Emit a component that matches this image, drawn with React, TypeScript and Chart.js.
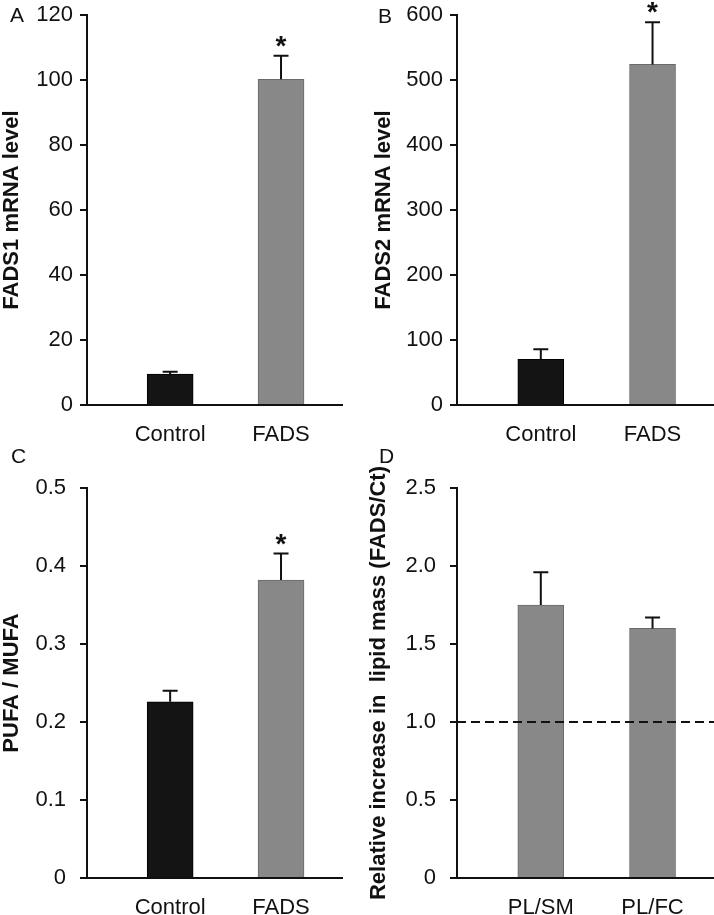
import React, { useEffect, useRef } from 'react';
import { Chart, registerables } from 'chart.js';

Chart.register(...registerables);

// ---------- data ----------
const geneCategories = ['Control', 'FADS'];
const fads1Mean = [9.5, 100.2];
const fads1Sem = [0.75, 7.3];
const fads2Mean = [70.3, 524];
const fads2Sem = [15.4, 65];
const pufaMufaMean = [0.226, 0.382];
const pufaMufaSem = [0.014, 0.034];
const lipidCategories = ['PL/SM', 'PL/FC'];
const lipidMean = [1.75, 1.6];
const lipidSem = [0.21, 0.07];
const geneStars = [false, true];
const lipidStars = [false, false];
const lipidReference = 1.0;

const fads1TickValues = [0, 20, 40, 60, 80, 100, 120];
const fads1TickLabels = ['0', '20', '40', '60', '80', '100', '120'];
const fads2TickValues = [0, 100, 200, 300, 400, 500, 600];
const fads2TickLabels = ['0', '100', '200', '300', '400', '500', '600'];
const pufaTickValues = [0, 0.1, 0.2, 0.3, 0.4, 0.5];
const pufaTickLabels = ['0', '0.1', '0.2', '0.3', '0.4', '0.5'];
const lipidTickValues = [0, 0.5, 1.0, 1.5, 2.0, 2.5];
const lipidTickLabels = ['0', '0.5', '1.0', '1.5', '2.0', '2.5'];

// ---------- styles ----------
const FONT = "'Liberation Sans', Arial, Helvetica, sans-serif";
const INK = '#111111';
const CONTROL_FILL = '#141414';
const CONTROL_EDGE = '#000000';
const FADS_FILL = '#888888';
const FADS_EDGE = '#6a6a6a';

type Panel = {
  key: string;
  letter: string;
  letterX: number;
  letterY: number;
  box: { left: number; top: number; width: number; height: number };
  axis: { left: number; top: number; right: number; bottom: number };
  title: string;
  titlePad: number;
  tickPad: number;
  categories: string[];
  means: number[];
  sems: number[];
  stars: boolean[];
  fills: string[];
  edges: string[];
  tickValues: number[];
  tickLabels: string[];
  reference?: number;
};

const panels: Panel[] = [
  {
    key: 'A', letter: 'A', letterX: 10, letterY: 22,
    box: { left: 0, top: 0, width: 357, height: 455 },
    axis: { left: 87, top: 15, right: 342, bottom: 405 },
    title: 'FADS1 mRNA level', titlePad: 1, tickPad: 7,
    categories: geneCategories, means: fads1Mean, sems: fads1Sem, stars: geneStars,
    fills: [CONTROL_FILL, FADS_FILL], edges: [CONTROL_EDGE, FADS_EDGE],
    tickValues: fads1TickValues, tickLabels: fads1TickLabels,
  },
  {
    key: 'B', letter: 'B', letterX: 21, letterY: 23,
    box: { left: 357, top: 0, width: 357, height: 455 },
    axis: { left: 100, top: 15, right: 357, bottom: 405 },
    title: 'FADS2 mRNA level', titlePad: 16, tickPad: 7,
    categories: geneCategories, means: fads2Mean, sems: fads2Sem, stars: geneStars,
    fills: [CONTROL_FILL, FADS_FILL], edges: [CONTROL_EDGE, FADS_EDGE],
    tickValues: fads2TickValues, tickLabels: fads2TickLabels,
  },
  {
    key: 'C', letter: 'C', letterX: 11, letterY: 23,
    box: { left: 0, top: 440, width: 357, height: 475 },
    axis: { left: 87, top: 48, right: 342, bottom: 438 },
    title: 'PUFA / MUFA', titlePad: 1, tickPad: 14,
    categories: geneCategories, means: pufaMufaMean, sems: pufaMufaSem, stars: geneStars,
    fills: [CONTROL_FILL, FADS_FILL], edges: [CONTROL_EDGE, FADS_EDGE],
    tickValues: pufaTickValues, tickLabels: pufaTickLabels,
  },
  {
    key: 'D', letter: 'D', letterX: 22, letterY: 23,
    box: { left: 357, top: 440, width: 357, height: 475 },
    axis: { left: 100, top: 48, right: 357, bottom: 438 },
    title: 'Relative increase in  lipid mass (FADS/Ct)', titlePad: 11, tickPad: 14,
    categories: lipidCategories, means: lipidMean, sems: lipidSem, stars: lipidStars,
    fills: [FADS_FILL, FADS_FILL], edges: [FADS_EDGE, FADS_EDGE],
    tickValues: lipidTickValues, tickLabels: lipidTickLabels,
    reference: lipidReference,
  },
];

function makeOverlayPlugin(p: Panel) {
  return {
    id: 'overlay' + p.key,
    afterDatasetsDraw(chart: any) {
      const ctx = chart.ctx as CanvasRenderingContext2D;
      const yScale = chart.scales.y;
      const area = chart.chartArea;
      const meta = chart.getDatasetMeta(0);
      ctx.save();
      if (p.reference !== undefined) {
        const ry = yScale.getPixelForValue(p.reference);
        ctx.strokeStyle = INK;
        ctx.lineWidth = 2;
        ctx.setLineDash([9, 5]);
        ctx.beginPath();
        ctx.moveTo(area.left, ry);
        ctx.lineTo(area.right, ry);
        ctx.stroke();
        ctx.setLineDash([]);
      }
      meta.data.forEach((bar: any, i: number) => {
        const top = yScale.getPixelForValue(p.means[i] + p.sems[i]);
        ctx.strokeStyle = INK;
        ctx.lineWidth = 2;
        ctx.beginPath();
        ctx.moveTo(bar.x, bar.y);
        ctx.lineTo(bar.x, top);
        ctx.moveTo(bar.x - 7.5, top);
        ctx.lineTo(bar.x + 7.5, top);
        ctx.stroke();
        if (p.stars[i]) {
          ctx.fillStyle = INK;
          ctx.font = `bold 28px ${FONT}`;
          ctx.textAlign = 'center';
          ctx.textBaseline = 'alphabetic';
          ctx.fillText('*', bar.x, top - 1);
        }
      });
      ctx.fillStyle = INK;
      ctx.font = `21px ${FONT}`;
      ctx.textAlign = 'left';
      ctx.textBaseline = 'alphabetic';
      ctx.fillText(p.letter, p.letterX, p.letterY);
      ctx.restore();
    },
  };
}

function PanelChart({ p }: { p: Panel }) {
  const ref = useRef<HTMLCanvasElement | null>(null);
  useEffect(() => {
    if (!ref.current) return;
    const { box, axis } = p;
    const chart = new Chart(ref.current, {
      type: 'bar',
      data: {
        datasets: [
          {
            data: p.means.map((m, i) => ({ x: i + 1, y: m })),
            backgroundColor: p.fills,
            borderColor: p.edges,
            borderWidth: 1,
            barThickness: 46,
          } as any,
        ],
      },
      options: {
        responsive: false,
        animation: false,
        devicePixelRatio: 1,
        layout: { padding: { top: axis.top, right: box.width - axis.right, left: 0, bottom: 0 } },
        plugins: { legend: { display: false }, tooltip: { enabled: false } },
        scales: {
          x: {
            type: 'linear',
            min: 0.25,
            max: 2.55,
            offset: false,
            afterBuildTicks: (s: any) => {
              s.ticks = p.categories.map((_, i) => ({ value: i + 1 }));
            },
            afterFit: (s: any) => {
              s.height = box.height - axis.bottom;
            },
            ticks: {
              callback: (_v: any, i: number) => p.categories[i],
              font: { family: FONT, size: 22 },
              color: INK,
              padding: 17,
              maxRotation: 0,
              autoSkip: false,
            },
            grid: { display: false, drawTicks: false, offset: false },
            border: { display: true, width: 2, color: INK },
          },
          y: {
            type: 'linear',
            min: p.tickValues[0],
            max: p.tickValues[p.tickValues.length - 1],
            afterBuildTicks: (s: any) => {
              s.ticks = p.tickValues.map((v) => ({ value: v }));
            },
            afterFit: (s: any) => {
              s.width = axis.left;
            },
            ticks: {
              callback: (_v: any, i: number) => p.tickLabels[i],
              font: { family: FONT, size: 22, lineHeight: 0.5 },
              color: INK,
              padding: p.tickPad,
              autoSkip: false,
            },
            grid: {
              display: true,
              drawOnChartArea: false,
              drawTicks: true,
              tickLength: 7,
              lineWidth: 2,
              color: INK,
            },
            border: { display: true, width: 2, color: INK },
            title: {
              display: true,
              text: p.title,
              color: INK,
              font: { family: FONT, size: 22, weight: 'bold', lineHeight: 1 },
              padding: { top: p.titlePad, bottom: 0 },
            },
          },
        },
      } as any,
      plugins: [makeOverlayPlugin(p)],
    });
    return () => chart.destroy();
  }, [p]);
  return (
    <canvas
      ref={ref}
      width={p.box.width}
      height={p.box.height}
      style={{
        position: 'absolute',
        left: p.box.left,
        top: p.box.top,
        width: p.box.width,
        height: p.box.height,
      }}
    />
  );
}

export default function App() {
  return (
    <div
      style={{
        position: 'absolute',
        left: 0,
        top: 0,
        width: 714,
        height: 915,
        background: '#ffffff',
        overflow: 'hidden',
      }}
    >
      {panels.map((p) => (
        <PanelChart key={p.key} p={p} />
      ))}
    </div>
  );
}
